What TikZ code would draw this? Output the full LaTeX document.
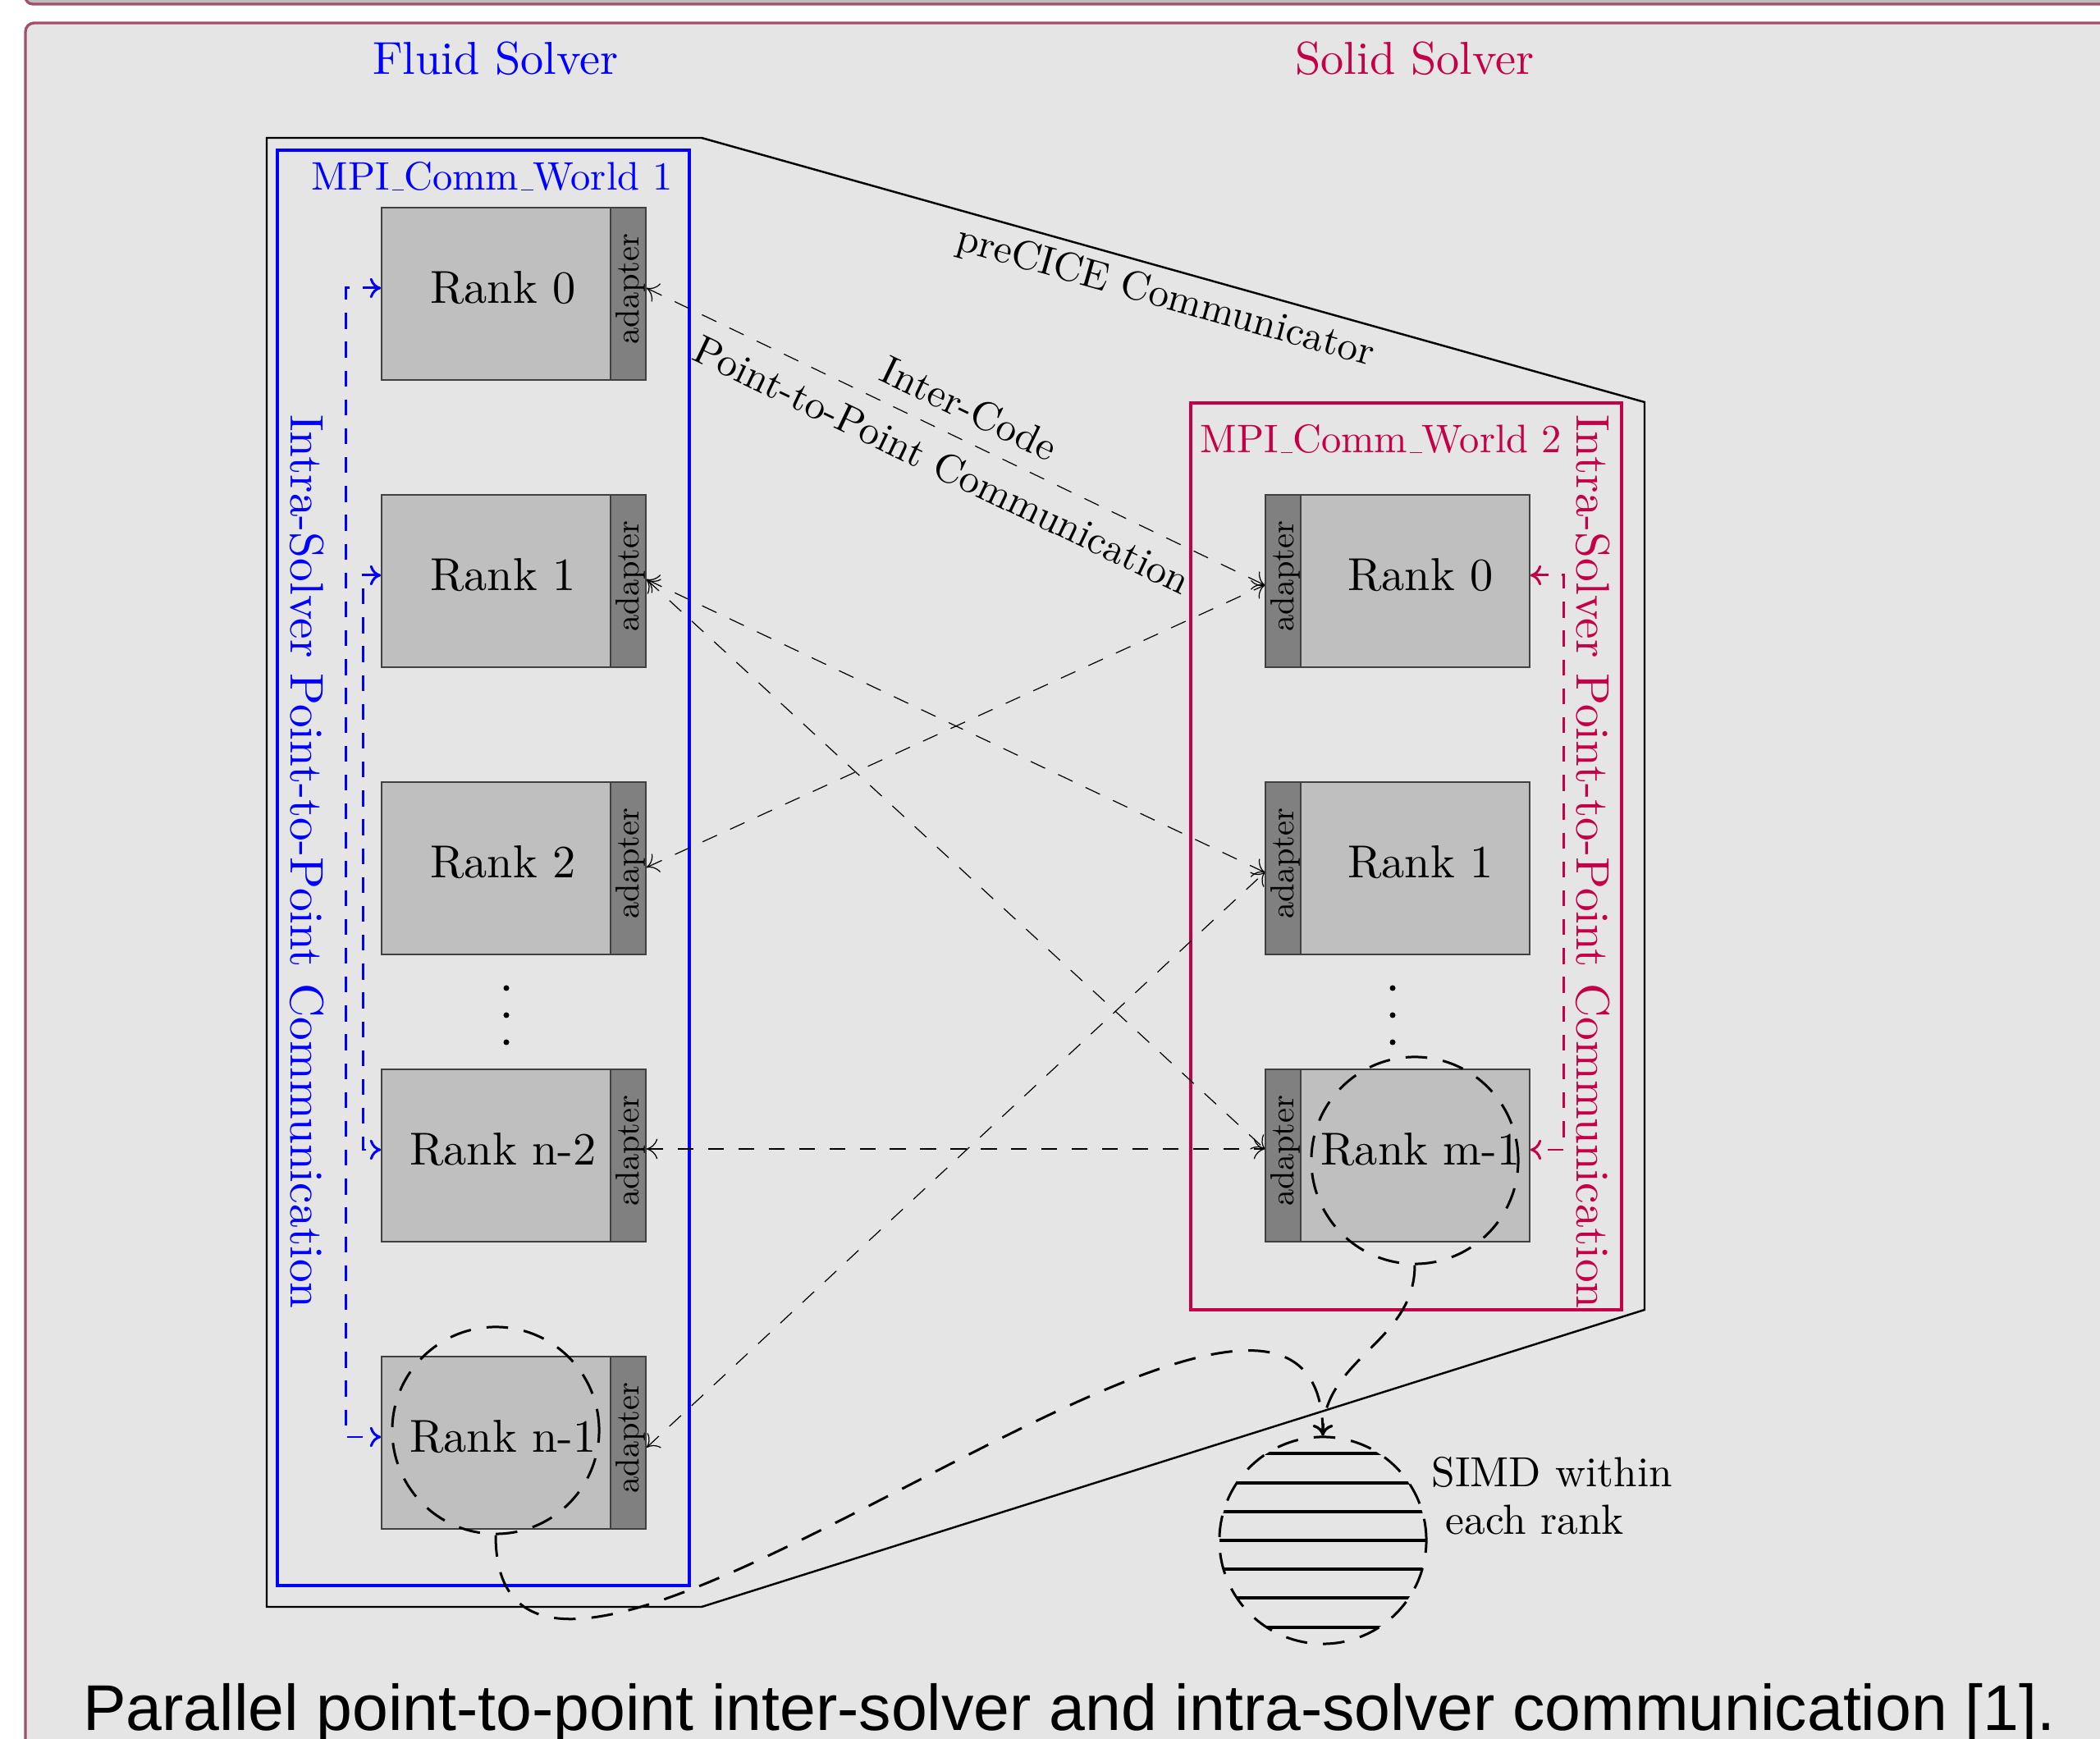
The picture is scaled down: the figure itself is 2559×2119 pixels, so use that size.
\documentclass[tikz,border=0pt]{standalone}
\usepackage{fontspec}
\setmainfont{lmroman10-regular}[Extension=.otf]
\newfontfamily\capfont{Liberation Sans}
\usetikzlibrary{arrows.meta,calc}
\definecolor{crim}{RGB}{196,0,72}
\definecolor{maroonb}{RGB}{160,80,106}
\definecolor{blockbg}{RGB}{229,229,229}
\definecolor{topgray}{RGB}{190,190,190}
\newcommand\usc{\kern.06em\vbox{\hrule width.3em}}
\begin{document}
\begin{tikzpicture}[x=0.01cm,y=-0.01cm,
  >={Computer Modern Rightarrow[length=3.8pt,width=7pt]},
  mainbox/.style={draw=black!75, line width=0.45pt, fill=lightgray, minimum width=2.79cm, minimum height=2.1cm, inner sep=0pt},
  adbox/.style={draw=black!75, line width=0.45pt, fill=gray, minimum width=0.43cm, minimum height=2.1cm, inner sep=0pt},
  ranktext/.style={font=\fontsize{16}{19.2}\selectfont, inner sep=0pt},
  adtext/.style={font=\fontsize{11.5}{13.8}\selectfont, rotate=90, inner sep=0pt},
  conn/.style={<->, line width=0.35pt, dash pattern=on 5.5pt off 5pt},
  intra/.style={<->, line width=0.85pt, dash pattern=on 5.5pt off 4.5pt},
  thickdash/.style={line width=0.85pt, dash pattern=on 7.5pt off 5.5pt},
  ring/.style={circle, draw, thickdash, minimum size=2.52cm, inner sep=0pt},
  title/.style={font=\fontsize{16}{19.2}\selectfont, anchor=base},
  mpilabel/.style={font=\fontsize{13.8}{16.5}\selectfont, anchor=base west, inner sep=0pt},
  sidetext/.style={font=\fontsize{16.3}{19.5}\selectfont, rotate=-90, inner sep=0pt},
  edgelabel/.style={font=\fontsize{14}{21.8}\selectfont, align=center}
  ]
\useasboundingbox (0,0) rectangle (2559,2119);
\clip (0,0) rectangle (2559,2119);
% poster blocks
\draw[fill=topgray, draw=maroonb, line width=0.95pt, rounded corners=2.5pt] (31,-80) rectangle (2700,5);
\draw[fill=blockbg, draw=maroonb, line width=0.95pt, rounded corners=3pt] (31,28) rectangle (2700,2400);

% titles
\node[title, text=blue] (fluid) at (604,91) {Fluid Solver};
\node[title, text=crim] (solid) at (1724,91) {Solid Solver};

% preCICE communicator outline
\draw[line width=0.7pt] (325,168) -- (855,168) -- node[midway, sloped, below, font=\fontsize{14}{16.8}\selectfont] (precice) {preCICE Communicator} (2004,490) -- (2004,1596) -- (855,1958) -- (325,1958) -- cycle;

% MPI worlds
\draw[blue, line width=1.4pt] (338,183) rectangle (840,1932);
\draw[crim, line width=1.4pt] (1451,491) rectangle (1976,1596);
\node[mpilabel, text=blue] (mpi1) at (379,232) {MPI\usc Comm\usc World 1};
\node[mpilabel, text=crim] (mpi2) at (1462,552) {MPI\usc Comm\usc World 2};

\node[sidetext, text=blue] (intra1) at (374,1050) {Intra-Solver Point-to-Point Communication};
\node[sidetext, text=crim] (intra2) at (1941,1050) {Intra-Solver Point-to-Point Communication};

% left ranks
\foreach \i/\yy/\lab in {0/358/Rank 0, 1/708/Rank 1, 2/1058/Rank 2, 3/1408/Rank n-2, 4/1758/Rank n-1} {
  \node[mainbox] (L\i) at (604.5,\yy) {};
  \node[adbox] (La\i) at (765.5,\yy) {};
  \node[ranktext] (L\i t) at (613,\yy-7) {\lab};
  \node[adtext] (La\i t) at (768,\yy-6) {adapter};
}
% right ranks
\foreach \i/\yy/\lab in {0/708/Rank 0, 1/1058/Rank 1, 2/1408/Rank m-1} {
  \node[mainbox] (R\i) at (1724.5,\yy) {};
  \node[adbox] (Ra\i) at (1563.5,\yy) {};
  \node[ranktext] (R\i t) at (1731,\yy-7) {\lab};
  \node[adtext] (Ra\i t) at (1566,\yy-6) {adapter};
}

% vertical dots
\foreach \yy in {1204,1237,1270} {
  \fill (617,\yy) circle (3.5);
  \fill (1697,\yy) circle (3.5);
}

% intra-solver communication
\draw[intra, blue] (L0.west |- L0t) -- ++(-43,0) |- (L4.west |- L4t);
\draw[intra, blue] (L1.west |- L1t) -- ++(-22,0) |- (L3.west |- L3t);
\draw[intra, crim] (R0.east |- R0t) -- ++(41,0) |- (R2.east |- R2t);

% inter-code communication
\draw[conn] ($(La0.east)+(0,-7)$) -- node[midway, sloped, edgelabel] (lbl) {Inter-Code\\Point-to-Point Communication} ($(Ra0.west)+(0,5)$);
\draw[conn] ($(La1.east)+(0,-2)$) -- ($(Ra1.west)+(0,5)$);
\draw[conn] ($(La1.east)+(0,-2)$) -- ($(Ra2.west)+(0,-8)$);
\draw[conn] ($(La2.east)+(0,-1)$) -- ($(Ra0.west)+(0,5)$);
\draw[conn] ($(La3.east)+(0,-8)$) -- ($(Ra2.west)+(0,-8)$);
\draw[conn] ($(La4.east)+(0,6)$) -- ($(Ra1.west)+(0,5)$);

% SIMD
\node[ring] (cn) at (604,1743) {};
\node[ring] (cm) at (1724,1414) {};
\node[ring] (simd) at (1612,1877) {};
\begin{scope}
  \clip (simd.center) circle (126);
  \foreach \k in {-3,...,3}
    \draw[line width=1.1pt] ($(simd.center)+(-130,35.2*\k)$) -- ++(260,0);
\end{scope}
\draw[thickdash, ->] (cn.south) .. controls +(0,397) and +(0,-397) .. (simd.north);
\draw[thickdash, ->] (cm.south) .. controls +(0,94) and +(0,-94) .. (simd.north);
\node[font=\fontsize{14.6}{16.3}\selectfont, align=left, anchor=north west, inner sep=0pt] (simdtext) at (1744,1775) {SIMD within\\\mbox{}\ each rank};

% caption
\node[font=\capfont\fontsize{22.4}{27}\selectfont, anchor=base] (caption) at (1303,2109) {Parallel point-to-point inter-solver and intra-solver communication [1].};
\end{tikzpicture}
\end{document}
